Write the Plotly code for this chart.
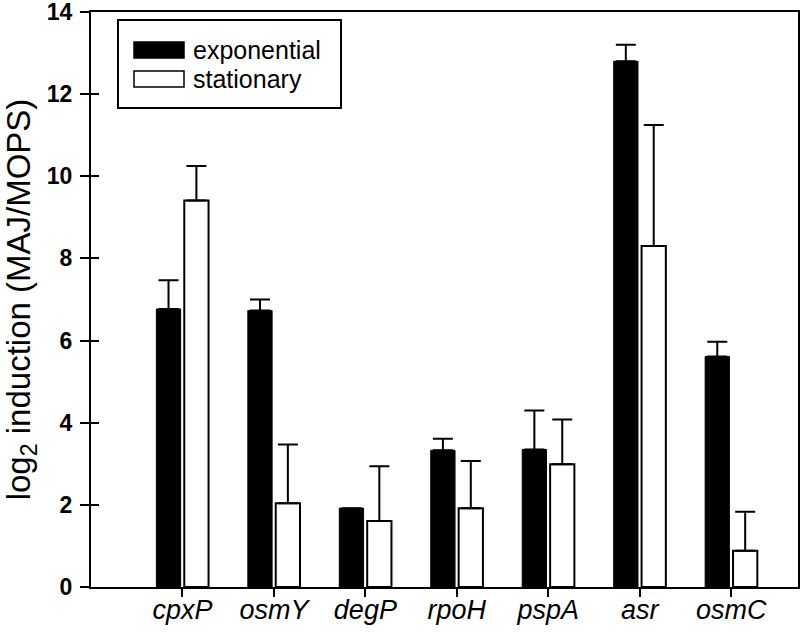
import plotly.graph_objects as go

genes = ["cpxP", "osmY", "degP", "rpoH", "pspA", "asr", "osmC"]
exponential = [6.77, 6.73, 1.92, 3.33, 3.35, 12.80, 5.61]
exponential_err = [0.70, 0.27, 0.0, 0.28, 0.95, 0.40, 0.36]
stationary = [9.41, 2.04, 1.61, 1.92, 2.99, 8.30, 0.88]
stationary_err = [0.84, 1.43, 1.33, 1.15, 1.09, 2.95, 0.95]
yticks = [0, 2, 4, 6, 8, 10, 12, 14]
series_names = ["exponential", "stationary"]

FONT = "Liberation Sans, Arial, sans-serif"
W, H = 800, 635
L, R, T, B = 91, 2, 12, 48


def px_x(px):
    return (px - L) / (W - L - R)


def px_y(py):
    return (H - B - py) / (H - T - B)


fig = go.Figure()
fig.add_trace(go.Bar(
    name=series_names[0], x=genes, y=exponential,
    marker=dict(color="black", line=dict(color="black", width=1)),
    error_y=dict(type="data", symmetric=False, array=exponential_err,
                 arrayminus=[0] * len(genes), color="black", thickness=2, width=10),
))
fig.add_trace(go.Bar(
    name=series_names[1], x=genes, y=stationary,
    marker=dict(color="white", line=dict(color="black", width=2)),
    error_y=dict(type="data", symmetric=False, array=stationary_err,
                 arrayminus=[0] * len(genes), color="black", thickness=2, width=10),
))
# invisible helper trace so the inner-tick axis is drawn
fig.add_trace(go.Scatter(x=[genes[0]], y=[0], yaxis="y2", mode="markers",
                         marker=dict(opacity=0), showlegend=False, hoverinfo="skip"))

# legend box drawn in paper coordinates
shapes = [
    dict(type="rect", xref="paper", yref="paper", x0=px_x(118), x1=px_x(341),
         y0=px_y(108), y1=px_y(20), line=dict(color="black", width=2),
         fillcolor="white", layer="above"),
    dict(type="rect", xref="paper", yref="paper", x0=px_x(134), x1=px_x(184),
         y0=px_y(58), y1=px_y(42), line=dict(color="black", width=1.5),
         fillcolor="black", layer="above"),
    dict(type="rect", xref="paper", yref="paper", x0=px_x(134), x1=px_x(184),
         y0=px_y(87), y1=px_y(71), line=dict(color="black", width=1.5),
         fillcolor="white", layer="above"),
]
annotations = [
    dict(text=series_names[0], xref="paper", yref="paper", x=px_x(191), y=px_y(50),
         xanchor="left", yanchor="middle", showarrow=False,
         font=dict(size=25, family=FONT, color="black")),
    dict(text=series_names[1], xref="paper", yref="paper", x=px_x(191), y=px_y(79),
         xanchor="left", yanchor="middle", showarrow=False,
         font=dict(size=25, family=FONT, color="black")),
]

fig.update_layout(
    width=W, height=H,
    margin=dict(l=L, r=R, t=T, b=B),
    paper_bgcolor="white", plot_bgcolor="white",
    barmode="group", bargap=0.39, bargroupgap=0.13,
    font=dict(family=FONT, color="black", size=24),
    showlegend=False,
    shapes=shapes, annotations=annotations,
    xaxis=dict(type="category", range=[-1, 6.73], showline=True, linecolor="black",
               linewidth=2, mirror=True, ticks="outside", ticklen=8, tickwidth=2,
               tickcolor="black", showgrid=False, automargin=False,
               ticklabelstandoff=-10,
               tickfont=dict(size=27, style="italic", family=FONT)),
    yaxis=dict(range=[0, 14], tickvals=yticks, showline=True, linecolor="black",
               linewidth=2, mirror=True, ticks="outside", ticklen=9, tickwidth=2,
               tickcolor="black", showgrid=False, zeroline=False, automargin=False,
               ticklabelstandoff=3, ticklabeloverflow="allow",
               tickfont=dict(size=23, weight="bold", family=FONT),
               title=dict(text="log<sub>2</sub> induction (MAJ/MOPS)",
                          font=dict(size=33, family=FONT), standoff=30)),
    yaxis2=dict(range=[0, 14], tickvals=yticks, overlaying="y", side="left",
                anchor="x", ticks="inside", ticklen=8, tickwidth=2, tickcolor="black",
                showticklabels=False, showline=False, showgrid=False, zeroline=False),
)

fig.write_html(
    "out.html",
    config={"displayModeBar": False},
    post_script="document.body.style.margin='0';document.body.style.overflow='hidden';",
)
